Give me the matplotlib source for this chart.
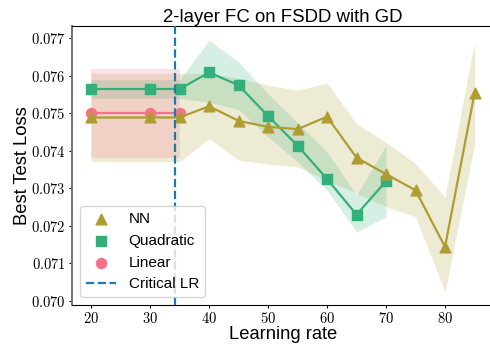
import matplotlib
matplotlib.use("Agg")
import matplotlib.pyplot as plt

plt.rcParams['font.family'] = ['Liberation Sans', 'DejaVu Sans']
plt.rcParams['mathtext.fontset'] = 'cm'

# Data
lr_nn = [20, 30, 35, 40, 45, 50, 55, 60, 65, 70, 75, 80, 85]
nn_loss = [0.07489, 0.07489, 0.07489, 0.07519, 0.07480, 0.07464, 0.07458,
           0.07491, 0.07382, 0.07338, 0.07295, 0.07144, 0.07553]
nn_upper = [0.07607, 0.07607, 0.07607, 0.07606, 0.07594, 0.07575, 0.07562,
            0.07581, 0.07472, 0.07423, 0.07366, 0.07277, 0.07691]
nn_lower = [0.07371, 0.07371, 0.07371, 0.07433, 0.07375, 0.07365, 0.07357,
            0.07322, 0.07287, 0.07251, 0.07224, 0.07024, 0.07415]

lr_quad = [20, 30, 35, 40, 45, 50, 55, 60, 65, 70]
quad_loss = [0.07565, 0.07565, 0.07565, 0.07609, 0.07575, 0.07493, 0.07414,
             0.07325, 0.07230, 0.07319]
quad_upper = [0.07590, 0.07590, 0.07590, 0.07695, 0.07637, 0.07552, 0.07475,
              0.07397, 0.07282, 0.07415]
quad_lower = [0.07540, 0.07540, 0.07540, 0.07530, 0.07510, 0.07437, 0.07371,
              0.07295, 0.07184, 0.07224]

lr_lin = [20, 30, 35]
lin_loss = [0.07501, 0.07501, 0.07501]
lin_upper = [0.07619, 0.07619, 0.07619]
lin_lower = [0.07381, 0.07381, 0.07381]

critical_lr = 34.15

x_ticks = [20, 30, 40, 50, 60, 70, 80]
y_ticks = [0.070, 0.071, 0.072, 0.073, 0.074, 0.075, 0.076, 0.077]

c_nn = '#ae9d31'
c_quad = '#33b07a'
c_lin = '#f77189'

fig = plt.figure(figsize=(4.9, 3.48), dpi=100)
ax = fig.add_axes([0.1469, 0.1236, 0.8606, 0.8017])

# error bands
ax.fill_between(lr_nn, nn_lower, nn_upper, color=c_nn, alpha=0.2, linewidth=0)
ax.fill_between(lr_quad, quad_lower, quad_upper, color=c_quad, alpha=0.2, linewidth=0)
ax.fill_between(lr_lin, lin_lower, lin_upper, color=c_lin, alpha=0.2, linewidth=0)

# lines + markers
ax.plot(lr_lin, lin_loss, color=c_lin, lw=1.6, zorder=3)
h_lin = ax.scatter(lr_lin, lin_loss, color=c_lin, marker='o', s=52, zorder=4, label='Linear')
ax.plot(lr_quad, quad_loss, color=c_quad, lw=1.6, zorder=3)
h_quad = ax.scatter(lr_quad, quad_loss, color=c_quad, marker='s', s=50, zorder=4, label='Quadratic')
ax.plot(lr_nn, nn_loss, color=c_nn, lw=1.6, zorder=5)
h_nn = ax.scatter(lr_nn, nn_loss, color=c_nn, marker='^', s=60, zorder=6, label='NN')

h_crit = ax.axvline(critical_lr, color='#1f77b4', ls='--', lw=1.6, zorder=7, label='Critical LR')

ax.set_xlim(16.75, 88.25)
ax.set_ylim(0.06989, 0.07733)
ax.set_xticks(x_ticks)
ax.set_xticklabels(['$%d$' % t for t in x_ticks])
ax.set_yticks(y_ticks)
ax.set_yticklabels(['$%.3f$' % t for t in y_ticks])
ax.tick_params(labelsize=10.5, length=2.5, width=0.8, pad=2)

ax.spines['left'].set_color('0.45')
ax.spines['left'].set_linewidth(1.4)

ax.set_title('2-layer FC on FSDD with GD', fontsize=13.4, pad=2.5)
ax.set_xlabel('Learning rate', fontsize=13.2)
ax.set_ylabel('Best Test Loss', fontsize=13.2)
ax.xaxis.set_label_coords(0.5, -0.075)
ax.yaxis.set_label_coords(-0.097, 0.5)

leg = ax.legend(handles=[h_nn, h_quad, h_lin, h_crit], loc='lower left', fontsize=11,
                scatterpoints=1)
leg.set_zorder(10)

fig.savefig('out.png', dpi=100)
